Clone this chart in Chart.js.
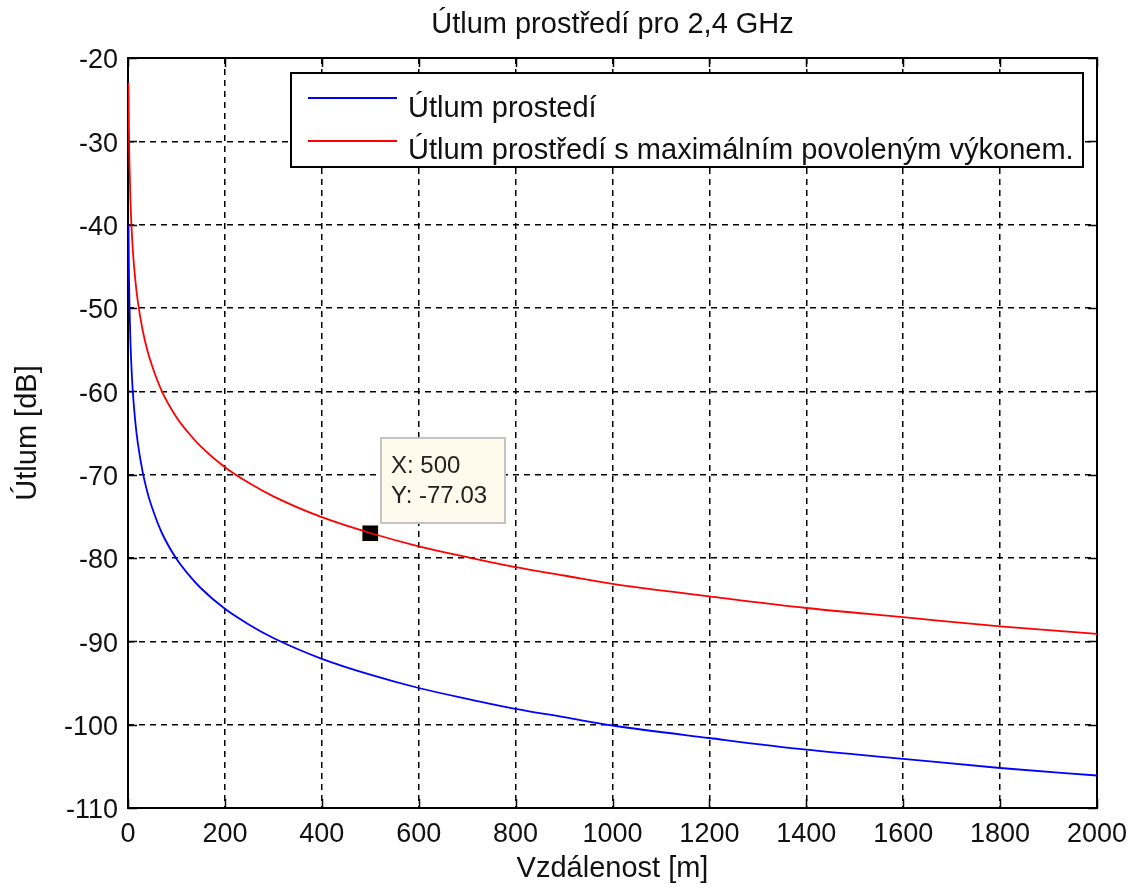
<!DOCTYPE html>
<html>
<head>
<meta charset="utf-8">
<script src="https://cdn.jsdelivr.net/npm/chart.js@4/dist/chart.umd.min.js"></script>
<style>
  html, body { margin: 0; padding: 0; background: #fff; }
  #wrap { width: 1139px; height: 890px; }
</style>
</head>
<body>
<div id="wrap"><canvas id="chart"></canvas></div>
<script>
// values
const distances = [1, 2, 3, 5, 7, 10, 15, 20, 30, 40, 50, 70, 100, 125, 150, 200, 250, 300,
  400, 500, 600, 700, 800, 900, 1000, 1200, 1400, 1600, 1800, 2000];
const lossPlain = [-40.0, -46.1, -49.6, -54.0, -56.9, -60.1, -63.6, -66.1, -69.6, -72.1, -74.0,
  -77.0, -80.1, -82.0, -83.6, -86.1, -88.0, -89.6, -92.1, -94.0, -95.6, -96.9, -98.1, -99.1,
  -100.1, -101.6, -103.0, -104.1, -105.2, -106.1];
const lossMaxPower = [-23.0, -29.1, -32.6, -37.0, -39.9, -43.1, -46.6, -49.1, -52.6, -55.1, -57.0,
  -60.0, -63.1, -65.0, -66.6, -69.1, -71.0, -72.6, -75.1, -77.0, -78.6, -79.9, -81.1, -82.1,
  -83.1, -84.6, -86.0, -87.1, -88.2, -89.1];
const seriesLabels = ["Útlum prostedí", "Útlum prostředí s maximálním povoleným výkonem."];
const seriesColors = ["#0000ff", "#ff0000"];
const chartTitle = "Útlum prostředí pro 2,4 GHz";
const dataTip = { x: 500, y: -77.03 };

const FONT = '"Liberation Sans", Arial, sans-serif';

const toPoints = (xs, ys) => xs.map((x, i) => ({ x: x, y: ys[i] }));

// axes box with inward tick marks, like the original
const framePlugin = {
  id: "frame",
  beforeDatasetsDraw(chart) {
    const { ctx, chartArea: a, scales } = chart;
    ctx.save();
    ctx.strokeStyle = "#000";
    ctx.lineWidth = 2;
    ctx.strokeRect(a.left, a.top, a.right - a.left, a.bottom - a.top);
    ctx.lineWidth = 1.5;
    ctx.beginPath();
    scales.x.ticks.forEach(t => {
      const px = Math.round(scales.x.getPixelForValue(t.value)) + 0.5;
      ctx.moveTo(px, a.bottom); ctx.lineTo(px, a.bottom - 9);
      ctx.moveTo(px, a.top); ctx.lineTo(px, a.top + 9);
    });
    scales.y.ticks.forEach(t => {
      const py = Math.round(scales.y.getPixelForValue(t.value)) + 0.5;
      ctx.moveTo(a.left, py); ctx.lineTo(a.left + 9, py);
      ctx.moveTo(a.right, py); ctx.lineTo(a.right - 9, py);
    });
    ctx.stroke();
    ctx.restore();
  },
  afterDraw(chart) {
    const { ctx, chartArea: a } = chart;
    ctx.save();
    ctx.fillStyle = "#111";
    ctx.font = "29px " + FONT;
    ctx.textAlign = "center";
    ctx.textBaseline = "alphabetic";
    ctx.fillText(chartTitle, (a.left + a.right) / 2, 33);
    ctx.restore();
  }
};

const legendPlugin = {
  id: "boxLegend",
  afterDraw(chart) {
    const { ctx } = chart;
    const left = 291, top = 73, width = 792, height = 94;
    ctx.save();
    ctx.fillStyle = "#fff";
    ctx.fillRect(left, top, width, height);
    ctx.strokeStyle = "#000";
    ctx.lineWidth = 2;
    ctx.strokeRect(left, top, width, height);
    ctx.font = "29px " + FONT;
    ctx.textBaseline = "alphabetic";
    seriesLabels.forEach((label, i) => {
      const ly = 98 + i * 43;
      ctx.strokeStyle = seriesColors[i];
      ctx.lineWidth = 2;
      ctx.beginPath();
      ctx.moveTo(308, ly); ctx.lineTo(397, ly);
      ctx.stroke();
      ctx.fillStyle = "#111";
      ctx.fillText(label, 408, 117 + i * 42);
    });
    ctx.restore();
  }
};

const tipPlugin = {
  id: "dataTip",
  afterDraw(chart) {
    const { ctx, scales } = chart;
    const px = scales.x.getPixelForValue(dataTip.x);
    const py = scales.y.getPixelForValue(dataTip.y);
    const bx = Math.round(px + 11), by = Math.round(py - 95);
    ctx.save();
    ctx.fillStyle = "#fffaeb";
    ctx.fillRect(bx, by, 124, 85);
    ctx.strokeStyle = "#c4c4c4";
    ctx.lineWidth = 2;
    ctx.strokeRect(bx, by, 124, 85);
    ctx.fillStyle = "#222";
    ctx.font = "24px " + FONT;
    ctx.fillText("X: " + dataTip.x, bx + 10, by + 35);
    ctx.fillText("Y: " + dataTip.y.toFixed(2), bx + 10, by + 65);
    ctx.restore();
  }
};

new Chart(document.getElementById("chart"), {
  type: "line",
  data: {
    datasets: [
      {
        label: seriesLabels[0],
        data: toPoints(distances, lossPlain),
        borderColor: seriesColors[0],
        borderWidth: 1.8,
        pointRadius: 0,
        cubicInterpolationMode: "monotone"
      },
      {
        label: seriesLabels[1],
        data: toPoints(distances, lossMaxPower),
        borderColor: seriesColors[1],
        borderWidth: 1.8,
        pointRadius: 0,
        cubicInterpolationMode: "monotone"
      },
      {
        label: "tip",
        data: [dataTip],
        showLine: false,
        pointStyle: "rect",
        pointRadius: 12.5,
        backgroundColor: "#000",
        borderColor: "#fffaeb",
        borderWidth: 2
      }
    ]
  },
  options: {
    responsive: true,
    maintainAspectRatio: false,
    animation: false,
    layout: { padding: { left: 0, right: 42, top: 58, bottom: 0 } },
    plugins: {
      legend: { display: false },
      tooltip: { enabled: false },
      title: { display: false }
    },
    scales: {
      x: {
        type: "linear",
        min: 0,
        max: 2000,
        afterFit(scale) { scale.height = 82; },
        ticks: { stepSize: 200, color: "#111", padding: 10, maxRotation: 0,
          callback: v => String(v),
          font: { family: FONT, size: 27 } },
        grid: { color: "#000", lineWidth: 1.5, drawTicks: false },
        border: { display: false, dash: [6, 5] },
        title: { display: true, text: "Vzdálenost [m]", color: "#111",
          font: { family: FONT, size: 29 }, padding: { top: 0, bottom: 4 } }
      },
      y: {
        min: -110,
        max: -20,
        afterFit(scale) { scale.width = 128; },
        ticks: { stepSize: 10, color: "#111", padding: 10, labelOffset: 3,
          callback: v => String(v),
          font: { family: FONT, size: 27 } },
        grid: { color: "#000", lineWidth: 1.5, drawTicks: false },
        border: { display: false, dash: [6, 5] },
        title: { display: true, text: "Útlum [dB]", color: "#111",
          font: { family: FONT, size: 29 }, padding: { top: 11, bottom: 0 } }
      }
    }
  },
  plugins: [framePlugin, legendPlugin, tipPlugin]
});
</script>
</body>
</html>
